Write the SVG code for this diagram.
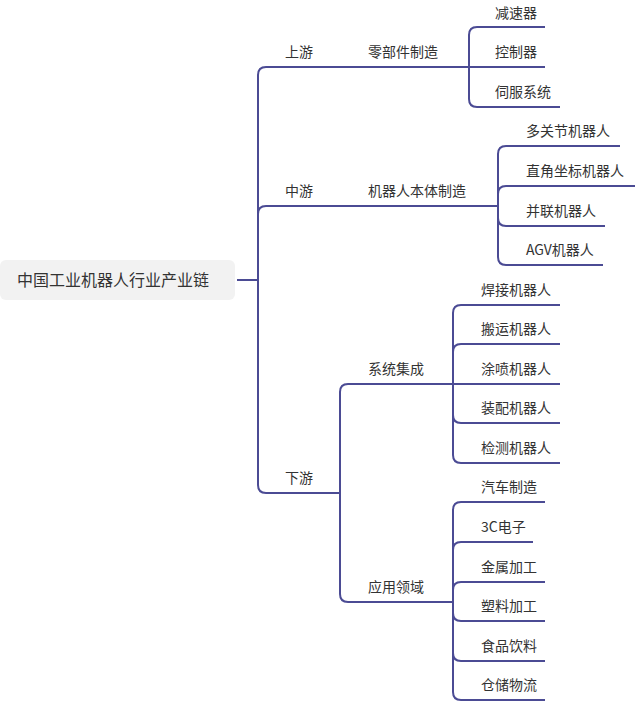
<svg xmlns="http://www.w3.org/2000/svg" width="640" height="705" viewBox="0 0 640 705">
<style>
.l{fill:none;stroke:#4b4b94;stroke-width:2}
text{font-family:"Noto Sans CJK SC","Liberation Sans",sans-serif;font-size:14px;fill:#333}
.r{font-size:16px}
</style>
<rect width="640" height="705" fill="#fff"/>
<g id="connectors">
<path class="l" d="M237,280H258"/>
<path class="l" d="M258,280V75Q258,67 266,67H469"/>
<path class="l" d="M258,280V214Q258,206 266,206H498"/>
<path class="l" d="M258,280V485Q258,493 266,493H340"/>
<path class="l" d="M469,67V35Q469,27 477,27H545"/>
<path class="l" d="M469,67H545"/>
<path class="l" d="M469,67V99Q469,107 477,107H560"/>
<path class="l" d="M498,206V154Q498,146 506,146H620"/>
<path class="l" d="M498,206V194Q498,186 506,186H635"/>
<path class="l" d="M498,206V218Q498,226 506,226H605"/>
<path class="l" d="M498,206V257Q498,265 506,265H603"/>
<path class="l" d="M340,493V392Q340,384 348,384H453"/>
<path class="l" d="M340,493V594Q340,602 348,602H453"/>
<path class="l" d="M453,384V313Q453,305 461,305H560"/>
<path class="l" d="M453,384V352Q453,344 461,344H560"/>
<path class="l" d="M453,384H560"/>
<path class="l" d="M453,384V415Q453,423 461,423H560"/>
<path class="l" d="M453,384V455Q453,463 461,463H560"/>
<path class="l" d="M453,602V510Q453,502 461,502H545"/>
<path class="l" d="M453,602V550Q453,542 461,542H533"/>
<path class="l" d="M453,602V590Q453,582 461,582H545"/>
<path class="l" d="M453,602V613Q453,621 461,621H545"/>
<path class="l" d="M453,602V653Q453,661 461,661H545"/>
<path class="l" d="M453,602V692Q453,700 461,700H545"/>
</g>
<g id="root"><rect x="0" y="260" width="235" height="40" rx="6" fill="#f2f2f2"/><text class="r" x="17" y="286">中国工业机器人行业产业链</text></g>
<g id="up"><text x="285" y="57">上游</text></g>
<g id="mid"><text x="285" y="196">中游</text></g>
<g id="down"><text x="285" y="483">下游</text></g>
<g id="parts"><text x="368" y="57">零部件制造</text></g>
<g id="body"><text x="368" y="196">机器人本体制造</text></g>
<g id="integ"><text x="368" y="374">系统集成</text></g>
<g id="app"><text x="368" y="592">应用领域</text></g>
<g id="leaves">
<text x="495" y="18">减速器</text>
<text x="495" y="57">控制器</text>
<text x="495" y="97">伺服系统</text>
<text x="526" y="136">多关节机器人</text>
<text x="526" y="176">直角坐标机器人</text>
<text x="526" y="216">并联机器人</text>
<text x="526" y="255">AGV机器人</text>
<text x="481" y="295">焊接机器人</text>
<text x="481" y="334">搬运机器人</text>
<text x="481" y="374">涂喷机器人</text>
<text x="481" y="413">装配机器人</text>
<text x="481" y="453">检测机器人</text>
<text x="481" y="492">汽车制造</text>
<text x="481" y="532">3C电子</text>
<text x="481" y="572">金属加工</text>
<text x="481" y="611">塑料加工</text>
<text x="481" y="651">食品饮料</text>
<text x="481" y="690">仓储物流</text>
</g>
</svg>
